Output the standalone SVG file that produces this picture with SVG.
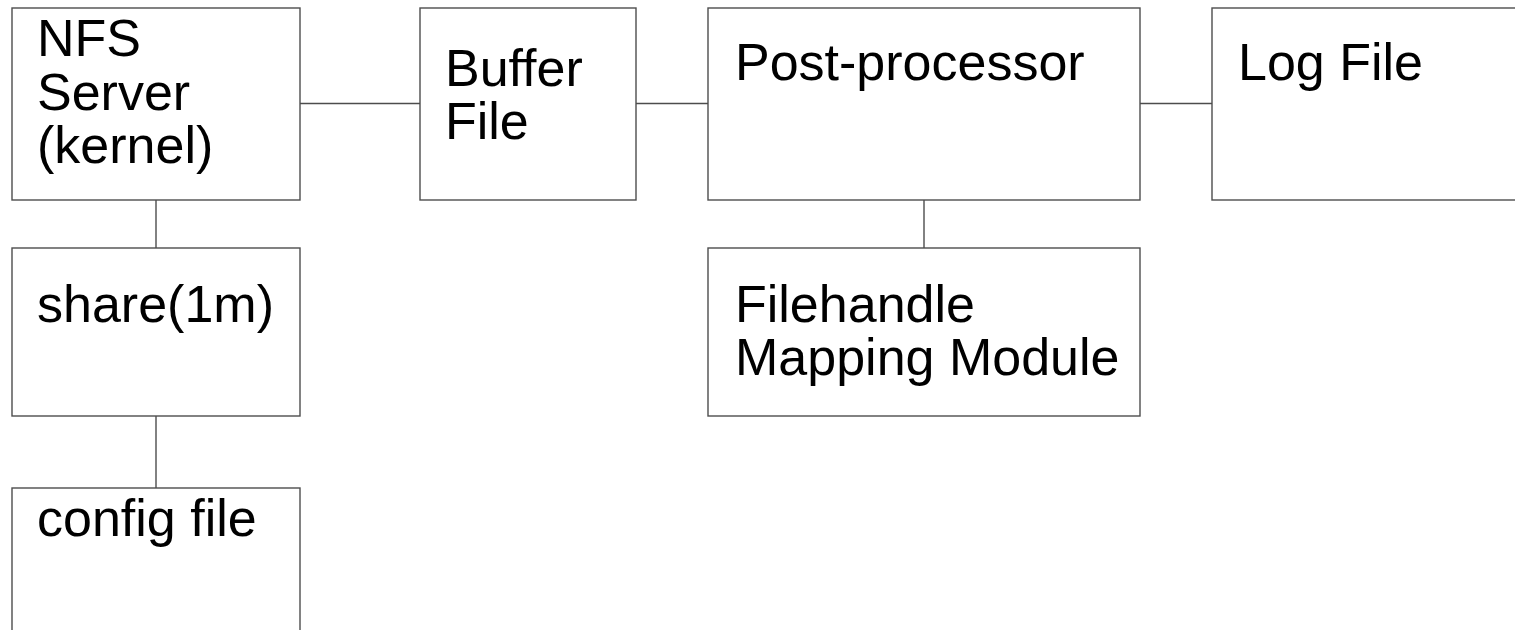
<svg xmlns="http://www.w3.org/2000/svg" width="1515" height="630" viewBox="0 0 1515 630">
<style>
.box{fill:#fff;stroke:#4d4d4d;stroke-width:1.4}
.ln{stroke:#4d4d4d;stroke-width:1.4;fill:none}
.t{font-family:"Liberation Sans",Arial,sans-serif;font-size:52px;fill:#000}
</style>
<rect width="1515" height="630" fill="#fff"/>
<g id="connectors">
<line class="ln" x1="300" y1="103.5" x2="420" y2="103.5"/>
<line class="ln" x1="636" y1="103.5" x2="708" y2="103.5"/>
<line class="ln" x1="1140" y1="103.5" x2="1212" y2="103.5"/>
<line class="ln" x1="156" y1="200" x2="156" y2="248"/>
<line class="ln" x1="156" y1="416" x2="156" y2="488"/>
<line class="ln" x1="924" y1="200" x2="924" y2="248"/>
</g>
<g id="nfs">
<rect class="box" x="12" y="8" width="288" height="192"/>
<text class="t" x="37" y="56">NFS</text>
<text class="t" x="37" y="110">Server</text>
<text class="t" x="37" y="163">(kernel)</text>
</g>
<g id="buffer">
<rect class="box" x="420" y="8" width="216" height="192"/>
<text class="t" x="445" y="86">Buffer</text>
<text class="t" x="445" y="139">File</text>
</g>
<g id="post">
<rect class="box" x="708" y="8" width="432" height="192"/>
<text class="t" x="735" y="80">Post-processor</text>
</g>
<g id="log">
<rect class="box" x="1212" y="8" width="320" height="192"/>
<text class="t" x="1238" y="80">Log File</text>
</g>
<g id="share">
<rect class="box" x="12" y="248" width="288" height="168"/>
<text class="t" x="37" y="322">share(1m)</text>
</g>
<g id="fh">
<rect class="box" x="708" y="248" width="432" height="168"/>
<text class="t" x="735" y="322">Filehandle</text>
<text class="t" x="735" y="375">Mapping Module</text>
</g>
<g id="config">
<rect class="box" x="12" y="488" width="288" height="160"/>
<text class="t" x="37" y="536">config file</text>
</g>
</svg>
